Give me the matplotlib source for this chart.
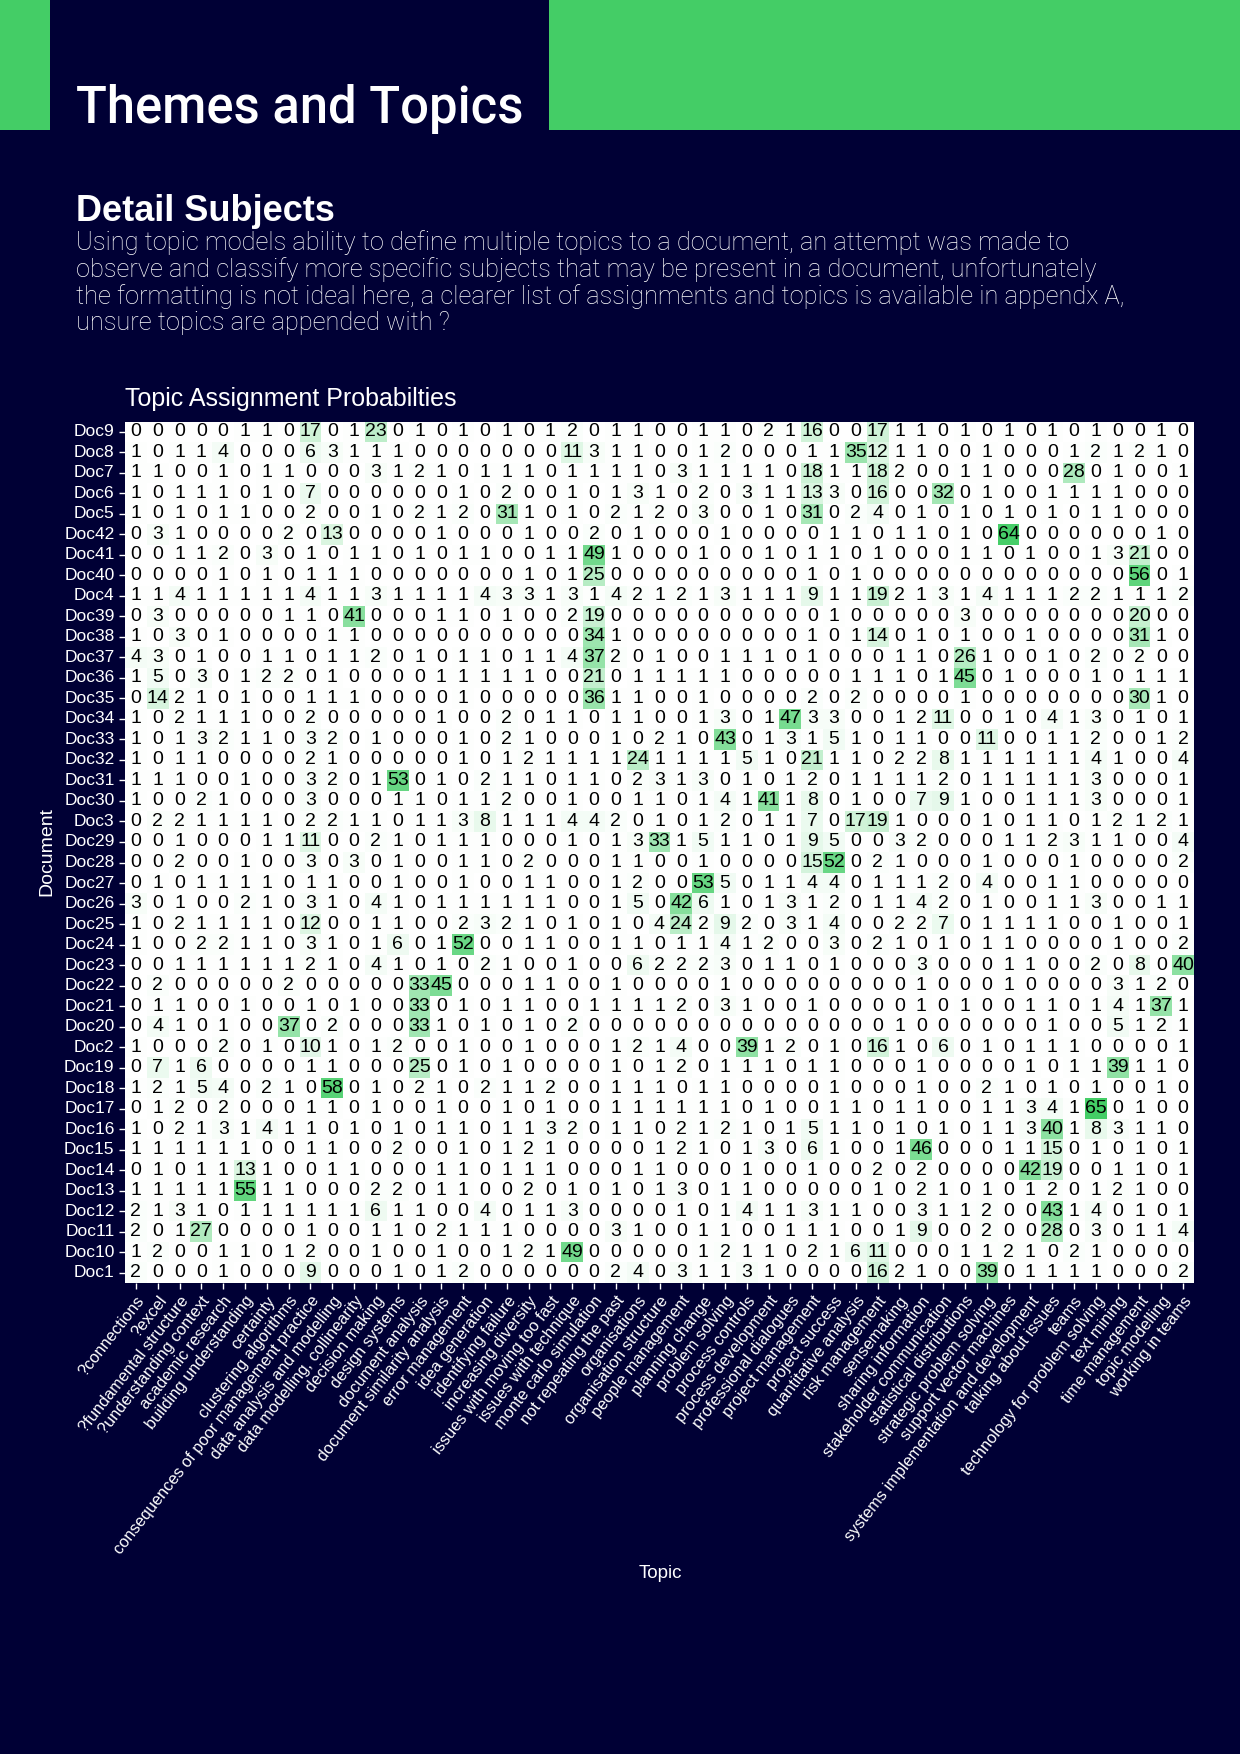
import numpy as np
import matplotlib
matplotlib.use('Agg')
import matplotlib.pyplot as plt
import seaborn as sns
from matplotlib.colors import LinearSegmentedColormap
from matplotlib.patches import Rectangle

NAVY = '#000035'
GREEN = '#44cd66'

topics = ['?connections', '?excel', '?fundamental structure', '?understanding context',
          'academic research', 'building understanding', 'certainty', 'clustering algorithms',
          'consequences of poor management practice', 'data analysis and modelling',
          'data modelling, collinearity', 'decision making', 'design systems', 'document analysis',
          'document similarity analysis', 'error management', 'idea generation', 'identifying failure',
          'increasing diversity', 'issues with moving too fast', 'issues with technique',
          'monte carlo simulation', 'not repeating the past', 'organisations', 'organisation structure',
          'people management', 'planning change', 'problem solving', 'process controls',
          'process development', 'professional dialogues', 'project management', 'project success',
          'quantitative analysis', 'risk management', 'sensemaking', 'sharing information',
          'stakeholder communication', 'statistical distributions', 'strategic problem solving',
          'support vector machines', 'systems implementation and development', 'talking about issues',
          'teams', 'technology for problem solving', 'text mining', 'time management',
          'topic modelling', 'working in teams']

docs = ['Doc9', 'Doc8', 'Doc7', 'Doc6', 'Doc5', 'Doc42', 'Doc41', 'Doc40', 'Doc4', 'Doc39',
        'Doc38', 'Doc37', 'Doc36', 'Doc35', 'Doc34', 'Doc33', 'Doc32', 'Doc31', 'Doc30', 'Doc3',
        'Doc29', 'Doc28', 'Doc27', 'Doc26', 'Doc25', 'Doc24', 'Doc23', 'Doc22', 'Doc21', 'Doc20',
        'Doc2', 'Doc19', 'Doc18', 'Doc17', 'Doc16', 'Doc15', 'Doc14', 'Doc13', 'Doc12', 'Doc11',
        'Doc10', 'Doc1']

# topic assignment (%) per document, one row per doc in the order above
probs = [
    [0,0,0,0,0,1,1,0,17,0,1,23,0,1,0,1,0,1,0,1,2,0,1,1, 0,0,1,1,0,2,1,16,0,0,17,1,1,0,1,0,1,0,1,0,1,0,0,1,0],
    [1,0,1,1,4,0,0,0,6,3,1,1,1,0,0,0,0,0,0,0,11,3,1,1, 0,0,1,2,0,0,0,1,1,35,12,1,1,0,0,1,0,0,0,1,2,1,2,1,0],
    [1,1,0,0,1,0,1,1,0,0,0,3,1,2,1,0,1,1,1,0,1,1,1,1, 0,3,1,1,1,1,0,18,1,1,18,2,0,0,1,1,0,0,0,28,0,1,0,0,1],
    [1,0,1,1,1,0,1,0,7,0,0,0,0,0,0,1,0,2,0,0,1,0,1,3, 1,0,2,0,3,1,1,13,3,0,16,0,0,32,0,1,0,0,1,1,1,1,0,0,0],
    [1,0,1,0,1,1,0,0,2,0,0,1,0,2,1,2,0,31,1,0,1,0,2,1, 2,0,3,0,0,1,0,31,0,2,4,0,1,0,1,0,1,0,1,0,1,1,0,0,0],
    [0,3,1,0,0,0,0,2,0,13,0,0,0,0,1,0,0,0,1,0,0,2,0,1, 0,0,0,1,0,0,0,0,1,1,0,1,1,0,1,0,64,0,0,0,0,0,0,1,0],
    [0,0,1,1,2,0,3,0,1,0,1,1,0,1,0,1,1,0,0,1,1,49,1,0, 0,0,1,0,0,1,0,1,1,0,1,0,0,0,1,1,0,1,0,0,1,3,21,0,0],
    [0,0,0,0,1,0,1,0,1,1,1,0,0,0,0,0,0,0,1,0,1,25,0,0, 0,0,0,0,0,0,0,1,0,1,0,0,0,0,0,0,0,0,0,0,0,0,56,0,1],
    [1,1,4,1,1,1,1,1,4,1,1,3,1,1,1,1,4,3,3,1,3,1,4,2, 1,2,1,3,1,1,1,9,1,1,19,2,1,3,1,4,1,1,1,2,2,1,1,1,2],
    [0,3,0,0,0,0,0,1,1,0,41,0,0,0,1,1,0,1,0,0,2,19,0,0, 0,0,0,0,0,0,0,0,1,0,0,0,0,0,3,0,0,0,0,0,0,0,20,0,0],
    [1,0,3,0,1,0,0,0,0,1,1,0,0,0,0,0,0,0,0,0,0,34,1,0, 0,0,0,0,0,0,0,1,0,1,14,0,1,0,1,0,0,1,0,0,0,0,31,1,0],
    [4,3,0,1,0,0,1,1,0,1,1,2,0,1,0,1,1,0,1,1,4,37,2,0, 1,0,0,1,1,1,0,1,0,0,0,1,1,0,26,1,0,0,1,0,2,0,2,0,0],
    [1,5,0,3,0,1,2,2,0,1,0,0,0,0,1,1,1,1,1,0,0,21,0,1, 1,1,1,1,0,0,0,0,0,1,1,1,0,1,45,0,1,0,0,0,1,0,1,1,1],
    [0,14,2,1,0,1,0,0,1,1,1,0,0,0,0,1,0,0,0,0,0,36,1,1, 0,0,1,0,0,0,0,2,0,2,0,0,0,0,1,0,0,0,0,0,0,0,30,1,0],
    [1,0,2,1,1,1,0,0,2,0,0,0,0,0,1,0,0,2,0,1,1,0,1,1, 0,0,1,3,0,1,47,3,3,0,0,1,2,11,0,0,1,0,4,1,3,0,1,0,1],
    [1,0,1,3,2,1,1,0,3,2,0,1,0,0,0,1,0,2,1,0,0,0,1,0, 2,1,0,43,0,1,3,1,5,1,0,1,1,0,0,11,0,0,1,1,2,0,0,1,2],
    [1,0,1,1,0,0,0,0,2,1,0,0,0,0,0,1,0,1,2,1,1,1,1,24, 1,1,1,1,5,1,0,21,1,1,0,2,2,8,1,1,1,1,1,1,4,1,0,0,4],
    [1,1,1,0,0,1,0,0,3,2,0,1,53,0,1,0,2,1,1,0,1,1,0,2, 3,1,3,0,1,0,1,2,0,1,1,1,1,2,0,1,1,1,1,1,3,0,0,0,1],
    [1,0,0,2,1,0,0,0,3,0,0,0,1,1,0,1,1,2,0,0,1,0,0,1, 1,0,1,4,1,41,1,8,0,1,0,0,7,9,1,0,0,1,1,1,3,0,0,0,1],
    [0,2,2,1,1,1,1,0,2,2,1,1,0,1,1,3,8,1,1,1,4,4,2,0, 1,0,1,2,0,1,1,7,0,17,19,1,0,0,0,1,0,1,1,0,1,2,1,2,1],
    [0,0,1,0,0,0,1,1,11,0,0,2,1,0,1,1,1,0,0,0,1,0,1,3, 33,1,5,1,1,0,1,9,5,0,0,3,2,0,0,0,1,1,2,3,1,1,0,0,4],
    [0,0,2,0,0,1,0,0,3,0,3,0,1,0,0,1,1,0,2,0,0,0,1,1, 0,0,1,0,0,0,0,15,52,0,2,1,0,0,0,1,0,0,0,1,0,0,0,0,2],
    [0,1,0,1,1,1,1,0,1,1,0,0,1,0,0,1,0,0,1,1,0,0,1,2, 0,0,53,5,0,1,1,4,4,0,1,1,1,2,0,4,0,0,1,1,0,0,0,0,0],
    [3,0,1,0,0,2,1,0,3,1,0,4,1,0,1,1,1,1,1,1,0,0,1,5, 0,42,6,1,0,1,3,1,2,0,1,1,4,2,0,1,0,0,1,1,3,0,0,1,1],
    [1,0,2,1,1,1,1,0,12,0,0,1,1,0,0,2,3,2,1,0,1,0,1,0, 4,24,2,9,2,0,3,1,4,0,0,2,2,7,0,1,1,1,1,0,0,1,0,0,1],
    [1,0,0,2,2,1,1,0,3,1,0,1,6,0,1,52,0,0,1,1,0,0,1,1, 0,1,1,4,1,2,0,0,3,0,2,1,0,1,0,1,1,0,0,0,0,1,0,0,2],
    [0,0,1,1,1,1,1,1,2,1,0,4,1,0,1,0,2,1,0,0,1,0,0,6, 2,2,2,3,0,1,1,0,1,0,0,0,3,0,0,0,1,1,0,0,2,0,8,0,40],
    [0,2,0,0,0,0,0,2,0,0,0,0,0,33,45,0,0,0,1,1,0,0,1,0, 0,0,0,1,0,0,0,0,0,0,0,0,1,0,0,0,1,0,0,0,0,3,1,2,0],
    [0,1,1,0,0,1,0,0,1,0,1,0,0,33,0,1,0,1,1,0,0,1,1,1, 1,2,0,3,1,0,0,1,0,0,0,0,1,0,1,0,0,1,1,0,1,4,1,37,1],
    [0,4,1,0,1,0,0,37,0,2,0,0,0,33,1,0,1,0,1,0,2,0,0,0, 0,0,0,0,0,0,0,0,0,0,0,1,0,0,0,0,0,0,1,0,0,5,1,2,1],
    [1,0,0,0,2,0,1,0,10,1,0,1,2,0,0,1,0,0,1,0,0,0,1,2, 1,4,0,0,39,1,2,0,1,0,16,1,0,6,0,1,0,1,1,1,0,0,0,0,1],
    [0,7,1,6,0,0,0,0,1,1,0,0,0,25,0,1,0,1,0,0,0,0,1,0, 1,2,0,1,1,1,0,1,1,0,0,0,1,0,0,0,0,1,0,1,1,39,1,1,0],
    [1,2,1,5,4,0,2,1,0,58,0,1,0,2,1,0,2,1,1,2,0,0,1,1, 1,0,1,1,0,0,0,0,1,0,0,0,1,0,0,2,1,0,1,0,1,0,0,1,0],
    [0,1,2,0,2,0,0,0,1,1,0,1,0,0,1,0,0,1,0,1,0,0,1,1, 1,1,1,1,0,1,0,0,1,1,0,1,1,0,0,1,1,3,4,1,65,0,1,0,0],
    [1,0,2,1,3,1,4,1,1,0,1,0,1,0,1,1,0,1,1,3,2,0,1,1, 0,2,1,2,1,0,1,5,1,1,0,1,0,1,0,1,1,3,40,1,8,3,1,1,0],
    [1,1,1,1,1,1,0,0,1,1,0,0,2,0,0,1,0,1,2,1,0,0,0,0, 1,2,1,0,1,3,0,6,1,0,0,1,46,0,0,0,1,1,15,0,1,0,1,0,1],
    [0,1,0,1,1,13,1,0,0,1,1,0,0,0,1,1,0,1,1,1,0,0,0,1, 1,0,0,0,1,0,0,1,0,0,2,0,2,0,0,0,0,42,19,0,0,1,1,0,1],
    [1,1,1,1,1,55,1,1,0,0,0,2,2,0,1,1,0,0,2,0,1,0,1,0, 1,3,0,1,1,0,0,0,0,0,1,0,2,1,0,1,0,1,2,0,1,2,1,0,0],
    [2,1,3,1,0,1,1,1,1,1,1,6,1,1,0,0,4,0,1,1,3,0,0,0, 0,1,0,1,4,1,1,3,1,1,0,0,3,1,1,2,0,0,43,1,4,0,1,0,1],
    [2,0,1,27,0,0,0,0,1,0,0,1,1,0,2,1,1,1,0,0,0,0,3,1, 0,0,1,1,0,0,1,1,1,0,0,1,9,0,0,2,0,0,28,0,3,0,1,1,4],
    [1,2,0,0,1,1,0,1,2,0,0,1,0,0,1,0,0,1,2,1,49,0,0,0, 0,0,1,2,1,1,0,2,1,6,11,0,0,0,1,1,2,1,0,2,1,0,0,0,0],
    [2,0,0,0,1,0,0,0,9,0,0,0,1,0,1,2,0,0,0,0,0,0,2,4, 0,3,1,1,3,1,0,0,0,0,16,2,1,0,0,39,0,1,1,1,1,0,0,0,2],
]

intro = ["Using topic models ability to define multiple topics to a document, an attempt was made to",
         "observe and classify more specific subjects that may be present in a document, unfortunately",
         "the formatting is not ideal here, a clearer list of assignments and topics is available in appendx A,",
         "unsure topics are appended with ?"]

W, H = 1240, 1754
fig = plt.figure(figsize=(W / 100, H / 100), dpi=100, facecolor=NAVY)

# header band
fig.add_artist(Rectangle((0, 1 - 130 / H), 50 / W, 130 / H, transform=fig.transFigure,
                         color=GREEN, lw=0))
fig.add_artist(Rectangle((549 / W, 1 - 130 / H), 1 - 549 / W, 130 / H, transform=fig.transFigure,
                         color=GREEN, lw=0))
fig.text(76 / W, 1 - 123 / H, 'Themes and Topics', color='white', fontsize=36.5,
         family='Roboto', weight='medium', va='baseline')

fig.text(76 / W, 1 - 221 / H, 'Detail Subjects', color='white', fontsize=26,
         family='Liberation Sans', weight='bold', va='baseline')
for i, line in enumerate(intro):
    fig.text(76 / W, 1 - (250 + i * 26.8) / H, line, color='white', fontsize=18.3,
             family='Roboto', weight='light', va='baseline')

fig.text(125 / W, 1 - 406 / H, 'Topic Assignment Probabilties', color='white', fontsize=18,
         family='Liberation Sans', va='baseline')

# heatmap
ax = fig.add_axes([125 / W, 1 - 1283 / H, (1194 - 125) / W, (1283 - 421.5) / H])
cmap = LinearSegmentedColormap.from_list('wg', ['#ffffff', GREEN])
sns.heatmap(np.array(probs), ax=ax, cmap=cmap, vmin=0, vmax=65, cbar=False,
            annot=True, fmt='d', xticklabels=topics, yticklabels=docs,
            annot_kws={'fontsize': 14, 'family': 'Liberation Sans', 'color': 'black'})

ax.set_xticklabels(topics, rotation=52, ha='right', rotation_mode='anchor',
                   fontsize=11.8, family='Liberation Sans')
ax.set_yticklabels(docs, rotation=0, fontsize=12.5, family='Liberation Sans')
ax.tick_params(colors='white', length=4, width=1)

fig.text(47 / W, 1 - 852 / H, 'Document', color='white', fontsize=14, rotation=90,
         family='Liberation Sans', ha='center', va='center')
fig.text(660 / W, 1 - 1573 / H, 'Topic', color='white', fontsize=13.5,
         family='Liberation Sans', ha='center', va='center')

fig.savefig('out.png', dpi=100, facecolor=NAVY)
